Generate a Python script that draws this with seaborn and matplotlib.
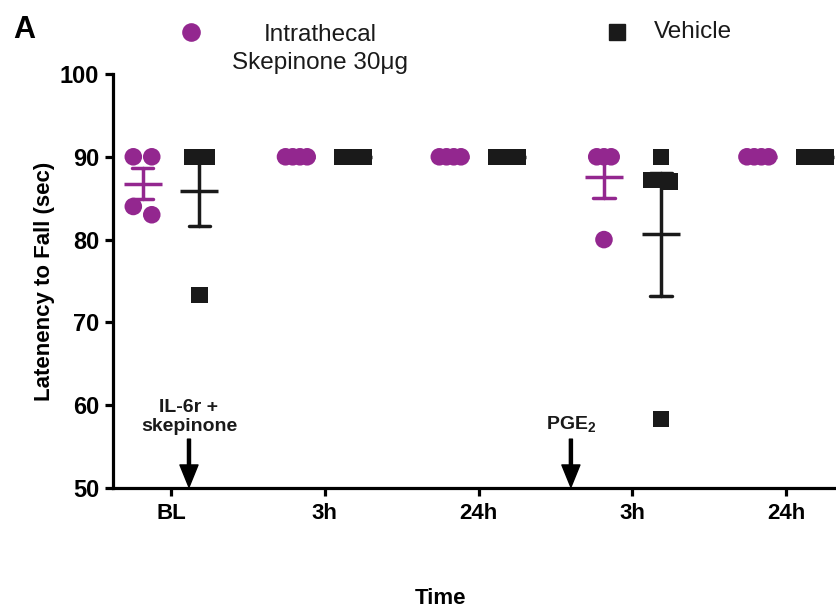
import numpy as np
import pandas as pd
import matplotlib
matplotlib.use('Agg')
import matplotlib.pyplot as plt
from matplotlib.lines import Line2D
import seaborn as sns

# x axis time points
time_labels = ['BL', '3h', '24h', '3h', '24h']
groups = ['Skepinone', 'Vehicle']

# latency to fall (sec), 4 animals per group
skep_bl = [90, 90, 84, 83]
skep_3h = [90, 90, 90, 90]
skep_24h = [90, 90, 90, 90]
skep_pge_3h = [90, 90, 90, 80]
skep_pge_24h = [90, 90, 90, 90]

veh_bl = [90, 90, 90, 73.3]
veh_3h = [90, 90, 90, 90]
veh_24h = [90, 90, 90, 90]
veh_pge_3h = [90, 87.2, 87.0, 58.3]
veh_pge_24h = [90, 90, 90, 90]

purple = '#93278f'
black = '#1a1a1a'
pal = {'Skepinone': purple, 'Vehicle': black}

skep_all = [skep_bl, skep_3h, skep_24h, skep_pge_3h, skep_pge_24h]
veh_all = [veh_bl, veh_3h, veh_24h, veh_pge_3h, veh_pge_24h]

rows = []
for t in range(len(time_labels)):
    for val in skep_all[t]:
        rows.append((t, 'Skepinone', val))
    for val in veh_all[t]:
        rows.append((t, 'Vehicle', val))
df = pd.DataFrame(rows, columns=['time', 'group', 'latency'])

# prism style scatter: points in the same row get spread sideways
dodge = 0.37
df['xpos'] = 0.0
for (t, g), sub in df.groupby(['time', 'group']):
    centre = t - dodge / 2 if g == 'Skepinone' else t + dodge / 2
    sub = sub.sort_values('latency', ascending=False)
    row_sets = []
    for idx, val in sub['latency'].items():
        if row_sets and row_sets[-1][0] - val < 1.5:
            row_sets[-1][1].append(idx)
        else:
            row_sets.append((val, [idx]))
    for _, members in row_sets:
        k = len(members)
        step = 0.12 if k == 2 else 0.047
        offs = (np.arange(k) - (k - 1) / 2) * step
        for idx, o in zip(members, offs):
            df.loc[idx, 'xpos'] = centre + o

sns.set_style('ticks')
plt.rcParams['font.family'] = ['Liberation Sans', 'DejaVu Sans']
plt.rcParams['text.color'] = 'black'
plt.rcParams['mathtext.fontset'] = 'custom'
plt.rcParams['mathtext.rm'] = 'Liberation Sans'
plt.rcParams['mathtext.bf'] = 'Liberation Sans:bold'

fig = plt.figure(figsize=(8.37, 6.11), dpi=100)
ax = fig.add_axes([0.135, 0.2013, 0.865, 0.6776])

# mean +/- SEM
sns.pointplot(data=df, x='time', y='latency', hue='group', hue_order=groups,
              palette=pal, errorbar='se', capsize=0.14, dodge=dodge,
              marker='_', markersize=27, markeredgewidth=2.5, linestyle='none',
              err_kws={'linewidth': 2.5}, legend=False, ax=ax)

# individual animals
sns.scatterplot(data=df, x='xpos', y='latency', hue='group', hue_order=groups,
                palette=pal, style='group', markers={'Skepinone': 'o', 'Vehicle': 's'},
                size='group', sizes={'Skepinone': 160, 'Vehicle': 140},
                linewidth=0, legend=False, ax=ax)

ax.set_xticks(range(len(time_labels)))
ax.set_xticklabels(time_labels)
ax.set_xlim(-0.377, 4.33)
ax.set_ylim(50, 100)
ax.set_yticks(np.arange(50, 101, 10))
sns.despine(ax=ax)
for sp in ['left', 'bottom']:
    ax.spines[sp].set_linewidth(2.3)
    ax.spines[sp].set_color('black')
ax.tick_params(width=2.3, length=6, colors='black', pad=5)
ax.tick_params(axis='x', labelsize=16)
ax.tick_params(axis='y', labelsize=17, pad=4)
for lab in ax.get_xticklabels() + ax.get_yticklabels():
    lab.set_fontweight('bold')
    lab.set_color('black')

ax.set_xlabel('Time', fontsize=16, fontweight='bold', color='black')
ax.set_ylabel('Latenency to Fall (sec)', fontsize=16, fontweight='bold', color='black')
ax.xaxis.set_label_coords(0.452, -0.242)
ax.yaxis.set_label_coords(-0.08, 0.5)

# treatment arrows
arrow_kw = dict(facecolor='black', edgecolor='black', width=2.2, headwidth=13, headlength=16, shrink=0)
ax.annotate('', xy=(0.117, 50.1), xytext=(0.117, 55.9), arrowprops=arrow_kw, annotation_clip=False)
ax.text(0.117, 58.6, 'IL-6r +\nskepinone', ha='center', va='center', fontsize=14,
        fontweight='bold', linespacing=1.15, color=black)
ax.annotate('', xy=(2.6, 50.1), xytext=(2.6, 55.9), arrowprops=arrow_kw, annotation_clip=False)
ax.text(2.6, 57.6, r'PGE$_\mathbf{2}$', ha='center', va='center', fontsize=14,
        fontweight='bold', color=black)

# legend on top
fig.add_artist(Line2D([191 / 837], [1 - 32 / 611], marker='o', markersize=12.4, color=purple,
                      linestyle='none', transform=fig.transFigure))
fig.text(320 / 837, 1 - 49 / 611, 'Intrathecal\nSkepinone 30μg', ha='center', va='center',
         fontsize=17.5, linespacing=1.4, multialignment='center', color=black)
fig.add_artist(Line2D([617 / 837], [1 - 32 / 611], marker='s', markersize=11.5, color=black,
                      linestyle='none', transform=fig.transFigure))
fig.text(693 / 837, 1 - 32 / 611, 'Vehicle', ha='center', va='center', fontsize=17.5, color=black)

fig.text(13 / 837, 1 - 15 / 611, 'A', ha='left', va='top', fontsize=22, fontweight='bold')

fig.savefig('out.png', dpi=100)
